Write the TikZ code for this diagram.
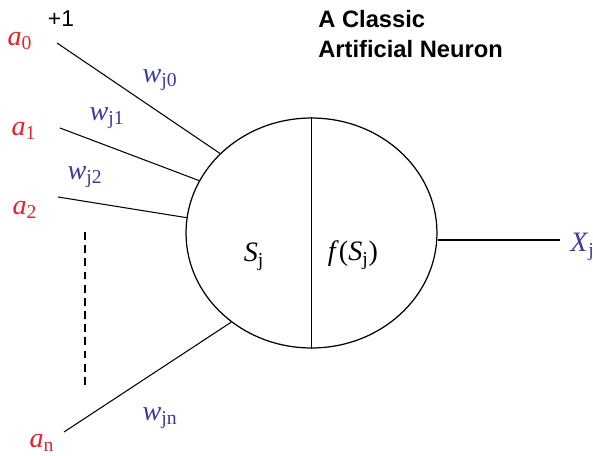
\documentclass[tikz,border=0pt]{standalone}
\usepackage{fontspec}
\setmainfont{Liberation Serif}
\setsansfont{Liberation Sans}
\usetikzlibrary{shapes.geometric}
\definecolor{inred}{HTML}{E3242B}
\definecolor{wblue}{HTML}{3C3C98}
\newcommand{\vsub}[2]{\textit{#1}\textsubscript{#2}}

\begin{document}
\begin{tikzpicture}[x=0.02cm,y=-0.02cm,
  neuronbody/.style={draw,ellipse,line width=0.7pt,minimum width=5.02cm,minimum height=4.6cm,inner sep=0pt},
  link/.style={line width=0.6pt},
  inlabel/.style={text=inred,font=\fontsize{16}{18}\selectfont,inner sep=0pt},
  wlabel/.style={text=wblue,font=\fontsize{16}{18}\selectfont,inner sep=0pt},
  inner/.style={font=\fontsize{16}{18}\selectfont,inner sep=0pt}
]
\useasboundingbox (0,0) rectangle (593,456);
% neuron
\node[neuronbody] (neuron) at (311.5,233) {};
\draw[link] (neuron.north) -- (neuron.south);
\node[inner] (sum) at (254,257) {\vsub{S}{j}};
\node[inner] (act) at (353,255) {\textit{f}(\vsub{S}{j})};
% inputs
\coordinate (in0) at (57,43);
\coordinate (in1) at (60,128);
\coordinate (in2) at (58,197);
\coordinate (inn) at (64,432);
\draw[link] (in0) -- (neuron.139.5);
\draw[link] (in1) -- (neuron.155.4);
\draw[link] (in2) -- (neuron.173.6);
\draw[link] (inn) -- (neuron.228.8);
\coordinate (dtop) at (85,232);
\coordinate (dbot) at (85,387);
\draw[link,dash pattern=on 4.5pt off 3pt] (dtop) -- (dbot);
\node[inlabel] (a0) at (20,41) {\vsub{a}{0}};
\node[inlabel] (a1) at (24,131) {\vsub{a}{1}};
\node[inlabel] (a2) at (25,210) {\vsub{a}{2}};
\node[inlabel] (an) at (42,443) {\vsub{a}{n}};
\node[font=\sffamily\fontsize{13}{15}\selectfont,inner sep=0pt] (bias) at (61,19) {+1};
% weights
\node[wlabel] (w0) at (160,80) {\vsub{w}{j0}};
\node[wlabel] (w1) at (107,118) {\vsub{w}{j1}};
\node[wlabel] (w2) at (85,177) {\vsub{w}{j2}};
\node[wlabel] (wn) at (160,418) {\vsub{w}{jn}};
% output
\coordinate (outend) at (560,240);
\draw[link] (neuron.east |- outend) -- (outend);
\node[wlabel,anchor=west] (out) at (570,247) {\vsub{X}{j}};
% title
\node[font=\sffamily\bfseries\fontsize{13.5}{17}\selectfont,align=left,anchor=north west,inner sep=0pt] (title) at (318,10) {A Classic\\Artificial Neuron};
\end{tikzpicture}
\end{document}
